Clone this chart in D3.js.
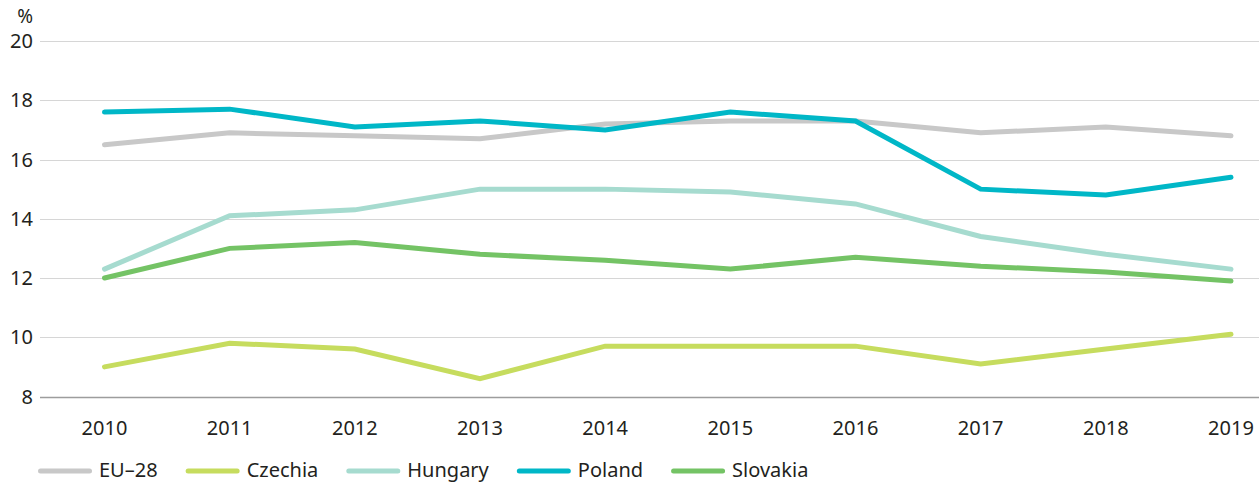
<!DOCTYPE html>
<html>
<head>
<meta charset="utf-8">
<script src="https://cdn.jsdelivr.net/npm/d3@7"></script>
<style>
  body { margin: 0; background: #fff; }
  text { font-family: "Noto Sans", sans-serif; fill: #231f20; }
</style>
</head>
<body>
<div id="chart"></div>
<script>
var years = [2010, 2011, 2012, 2013, 2014, 2015, 2016, 2017, 2018, 2019];
var yTicks = [8, 10, 12, 14, 16, 18, 20];

var eu28     = [16.5, 16.9, 16.8, 16.7, 17.2, 17.3, 17.3, 16.9, 17.1, 16.8];
var czechia  = [9.0, 9.8, 9.6, 8.6, 9.7, 9.7, 9.7, 9.1, 9.6, 10.1];
var hungary  = [12.3, 14.1, 14.3, 15.0, 15.0, 14.9, 14.5, 13.4, 12.8, 12.3];
var poland   = [17.6, 17.7, 17.1, 17.3, 17.0, 17.6, 17.3, 15.0, 14.8, 15.4];
var slovakia = [12.0, 13.0, 13.2, 12.8, 12.6, 12.3, 12.7, 12.4, 12.2, 11.9];

var seriesNames = ["EU\u201328", "Czechia", "Hungary", "Poland", "Slovakia"];
var seriesValues = [eu28, czechia, hungary, poland, slovakia];
var seriesColors = ["#c8c8c8", "#c6dc5e", "#a6dbcf", "#00b7c7", "#74c365"];

var width = 1259, height = 482;

var svg = d3.select("#chart").append("svg")
    .attr("width", width)
    .attr("height", height);

var x = d3.scaleLinear().domain([2010, 2019]).range([104.5, 1231]);
var y = d3.scaleLinear().domain([8, 20]).range([396.5, 41]);

// gridlines
svg.append("g").selectAll("line")
   .data(yTicks)
   .enter().append("line")
   .attr("x1", 40)
   .attr("x2", width)
   .attr("y1", function(d){ return Math.round(y(d)) + 0.5; })
   .attr("y2", function(d){ return Math.round(y(d)) + 0.5; })
   .attr("stroke", function(d){ return d === 8 ? "#9d9d9d" : "#d6d6d6"; })
   .attr("stroke-width", function(d){ return d === 8 ? 1.5 : 1; });

// y axis labels
svg.append("g").selectAll("text")
   .data(yTicks)
   .enter().append("text")
   .attr("x", 33)
   .attr("y", function(d){ return y(d) + 7; })
   .attr("text-anchor", "end")
   .attr("font-size", 20)
   .text(function(d){ return d; });

svg.append("text")
   .attr("x", 33)
   .attr("y", 23)
   .attr("text-anchor", "end")
   .attr("font-size", 19)
   .text("%");

// x axis labels
svg.append("g").selectAll("text")
   .data(years)
   .enter().append("text")
   .attr("x", function(d){ return x(d); })
   .attr("y", 435)
   .attr("text-anchor", "middle")
   .attr("font-size", 20)
   .text(function(d){ return d; });

// lines
var line = d3.line()
    .x(function(d, i){ return x(years[i]); })
    .y(function(d){ return y(d); });

seriesValues.forEach(function(vals, i){
  svg.append("path")
     .datum(vals)
     .attr("d", line)
     .attr("fill", "none")
     .attr("stroke", seriesColors[i])
     .attr("stroke-width", 5)
     .attr("stroke-linecap", "round")
     .attr("stroke-linejoin", "miter");
});

// legend
var legend = svg.append("g"),
    lx = 40.5,
    ly = 471;
seriesNames.forEach(function(name, i){
  legend.append("line")
        .attr("x1", lx)
        .attr("x2", lx + 49)
        .attr("y1", ly)
        .attr("y2", ly)
        .attr("stroke", seriesColors[i])
        .attr("stroke-width", 5)
        .attr("stroke-linecap", "round");
  var t = legend.append("text")
        .attr("x", lx + 58.5)
        .attr("y", ly + 6)
        .attr("font-size", 20)
        .text(name);
  lx = lx + 58.5 + t.node().getComputedTextLength() + 30.5;
});
</script>
</body>
</html>
